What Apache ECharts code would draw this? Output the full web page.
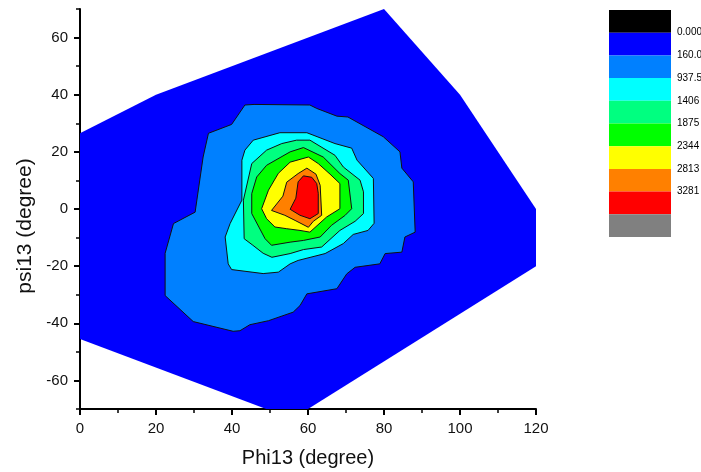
<!DOCTYPE html>
<html>
<head>
<meta charset="utf-8">
<script src="https://cdn.jsdelivr.net/npm/echarts@6/dist/echarts.min.js"></script>
<style>
  html, body { margin: 0; padding: 0; background: #fff; }
  #chart { width: 701px; height: 472px; }
</style>
</head>
<body>
<div id="chart"></div>
<script>
// Contour boundaries of the population map, as [phi13, psi13] vertices in degrees.
const hull = [[0,26.5],[20,40],[80,70],[100,40],[120,0],[120,-20],[60,-70],[49,-70],[0,-45.5]];

const level160 = [[33.8,26.5],[39.9,29.6],[43.4,36.4],[45.8,36.6],[60.5,36.4],[62.3,35.2],[67.6,32.5],[70.5,32.2],
  [79.8,25.3],[84.2,20],[84.7,14.3],[87.7,9.5],[88.2,-8.1],[85.5,-9.8],[84.7,-15.1],[80.3,-15.6],[78.9,-19.2],
  [72.4,-20.4],[70.2,-22.7],[67.6,-27.9],[59.7,-29.7],[57.9,-33.8],[56.1,-36.1],[49.6,-39.1],[44.7,-40.5],
  [42.1,-42.6],[40.3,-42.8],[29.8,-39.4],[22.4,-30.3],[22.4,-15.5],[24.6,-5.1],[30.3,-1.1],[32.4,18.2]];

const level937 = [[43.4,20.6],[45.6,24.1],[52.6,26.7],[59.7,26.7],[67.1,22.9],[71.5,21.3],[72.9,17.1],[77.2,10.7],
  [77.4,-5],[75.8,-7.5],[71.9,-8.9],[69.3,-12.1],[64.5,-15.6],[57.4,-18],[55.3,-19.2],[52.2,-22.1],[48.2,-22.6],
  [39.9,-21.2],[39,-19.2],[38.2,-9.8],[39.5,-5.1],[42.6,3.1],[42.6,17.1]];

const level1406 = [[45.2,15.9],[49.1,20.6],[53.1,22.9],[57,24.1],[60.5,24.1],[67.1,18.8],[69.3,14.7],[73.7,10.1],
  [74.6,6],[74.6,-1.6],[72.4,-4.3],[68.4,-7.5],[63.6,-13.3],[58.8,-14.2],[55.3,-15.6],[50.5,-16.9],[48.2,-15.5],
  [45.5,-12.7],[43.2,-10.4],[43,3.1]];

const level1875 = [[46.5,11.2],[49.1,15.3],[55.3,20],[58.8,21.5],[64,18.2],[68.4,12.4],[70.6,10.1],[71.5,0.1],
  [69.7,-2.3],[66.2,-5.7],[63.2,-9.8],[58.8,-11],[55.3,-11.6],[50.4,-12.7],[48.7,-10.4],[45.2,-1.6],[45.2,5.4]];

const level2344 = [[47.8,0.1],[49.6,6.6],[52.2,12.5],[55.3,16.4],[60.1,18.2],[62.7,15.9],[65.8,12.2],[68.4,8.9],
  [68.4,0.1],[64.9,-2.8],[60.5,-8.1],[57.9,-7.5],[54.4,-6.9],[51.3,-6.3],[49.1,-3.4]];

const level2813 = [[50.4,-0.5],[53.4,4.5],[54.4,9.4],[57.4,12.4],[59.7,14.3],[62.1,12.2],[63.2,8.3],[63.6,-2.2],
  [61.4,-4.3],[60.1,-6.4],[56.6,-4],[53.9,-2.2]];

const level3281 = [[57.4,9.5],[58.8,11.6],[61,11.1],[62.3,8.9],[62.7,5.5],[62.7,-1.6],[60.5,-3.4],[57.9,-2.2],
  [55.3,-0.1],[56.8,3.8]];

// Fill colours, from the outermost region inwards.
const regionColors = ['#0000FF', '#0080FF', '#00FFFF', '#00FF80', '#00FF00', '#FFFF00', '#FF8000', '#FF0000'];
const regions = [hull, level160, level937, level1406, level1875, level2344, level2813, level3281];

// Colour scale bands (top to bottom) and the level labels on their boundaries.
const scaleColors = ['#000000', '#0000FF', '#0080FF', '#00FFFF', '#00FF80', '#00FF00', '#FFFF00', '#FF8000', '#FF0000', '#808080'];
const scaleLabels = ['0.000', '160.0', '937.5', '1406', '1875', '2344', '2813', '3281'];

// Axis ticks.
const xTicks = [0, 20, 40, 60, 80, 100, 120];
const yMajorTicks = [-60, -40, -20, 0, 20, 40, 60];

const FONT = '"Liberation Sans", Arial, sans-serif';
const chart = echarts.init(document.getElementById('chart'), null, { renderer: 'canvas' });

chart.setOption({
  animation: false,
  backgroundColor: '#ffffff',
  grid: [
    { left: 80, right: 165, top: 9, bottom: 63, containLabel: false, outerBoundsMode: 'none' },
    { left: 609, top: 10, width: 62, height: 227, containLabel: false, outerBoundsMode: 'none' }
  ],
  xAxis: [
    {
      type: 'value', gridIndex: 0,
      min: xTicks[0], max: xTicks[xTicks.length - 1], interval: 20,
      axisLine: { show: true, onZero: false, lineStyle: { color: '#000', width: 2 } },
      axisTick: { show: true, length: 6, lineStyle: { color: '#000', width: 2 } },
      minorTick: { show: true, splitNumber: 2, length: 4, lineStyle: { color: '#000', width: 1.5 } },
      splitLine: { show: false },
      axisLabel: { fontSize: 15, color: '#111', margin: 12, fontFamily: FONT },
      name: 'Phi13 (degree)', nameLocation: 'middle', nameGap: 39,
      nameTextStyle: { fontSize: 20, color: '#111', fontFamily: FONT }
    },
    { type: 'value', gridIndex: 1, min: 0, max: 1, show: false }
  ],
  yAxis: [
    {
      type: 'value', gridIndex: 0, min: -70, max: 70, interval: 10,
      axisLine: { show: true, onZero: false, lineStyle: { color: '#000', width: 2 } },
      axisTick: { show: true, length: 4, lineStyle: { color: '#000', width: 1.5 } },
      splitLine: { show: false },
      axisLabel: {
        fontSize: 15, color: '#111', margin: 12, fontFamily: FONT,
        formatter: v => (yMajorTicks.indexOf(v) >= 0 ? String(v) : '')
      },
      name: 'psi13 (degree)', nameLocation: 'middle', nameGap: 44,
      nameTextStyle: { fontSize: 21, color: '#111', fontFamily: FONT, padding: [0, 34, 0, 0] }
    },
    {
      // longer ticks at the labelled values
      type: 'value', gridIndex: 0, min: -70, max: 70, position: 'left',
      axisLine: { show: false },
      axisTick: { show: true, length: 6, customValues: yMajorTicks, lineStyle: { color: '#000', width: 2 } },
      axisLabel: { show: false },
      splitLine: { show: false }
    },
    {
      type: 'value', gridIndex: 1, min: 0, max: scaleColors.length, interval: 1, inverse: true,
      position: 'right',
      axisLine: { show: false }, axisTick: { show: false }, splitLine: { show: false },
      axisLabel: {
        margin: 6, fontSize: 10, color: '#000', fontFamily: FONT, padding: [7, 0, 0, 0],
        formatter: v => (v >= 1 && v <= scaleLabels.length ? scaleLabels[v - 1] : '')
      }
    }
  ],
  series: [
    {
      type: 'custom', name: 'contours', coordinateSystem: 'cartesian2d',
      xAxisIndex: 0, yAxisIndex: 0,
      data: regions.map((r, i) => [r[0][0], r[0][1], i]),
      renderItem: (params, api) => {
        const i = params.dataIndex;
        const pts = regions[i].map(p => api.coord(p));
        return {
          type: 'polygon',
          shape: { points: pts },
          style: {
            fill: regionColors[i],
            stroke: i === 0 ? null : '#111',
            lineWidth: i === 0 ? 0 : 1
          }
        };
      }
    },
    {
      type: 'custom', name: 'scale', coordinateSystem: 'cartesian2d',
      xAxisIndex: 1, yAxisIndex: 2,
      data: scaleColors.map((c, i) => [0, i]),
      renderItem: (params, api) => {
        const i = params.dataIndex;
        const a = api.coord([0, i]);
        const b = api.coord([1, i + 1]);
        return {
          type: 'rect',
          shape: { x: a[0], y: Math.min(a[1], b[1]), width: b[0] - a[0], height: Math.abs(b[1] - a[1]) },
          style: { fill: scaleColors[i] }
        };
      }
    }
  ]
});
</script>
</body>
</html>
